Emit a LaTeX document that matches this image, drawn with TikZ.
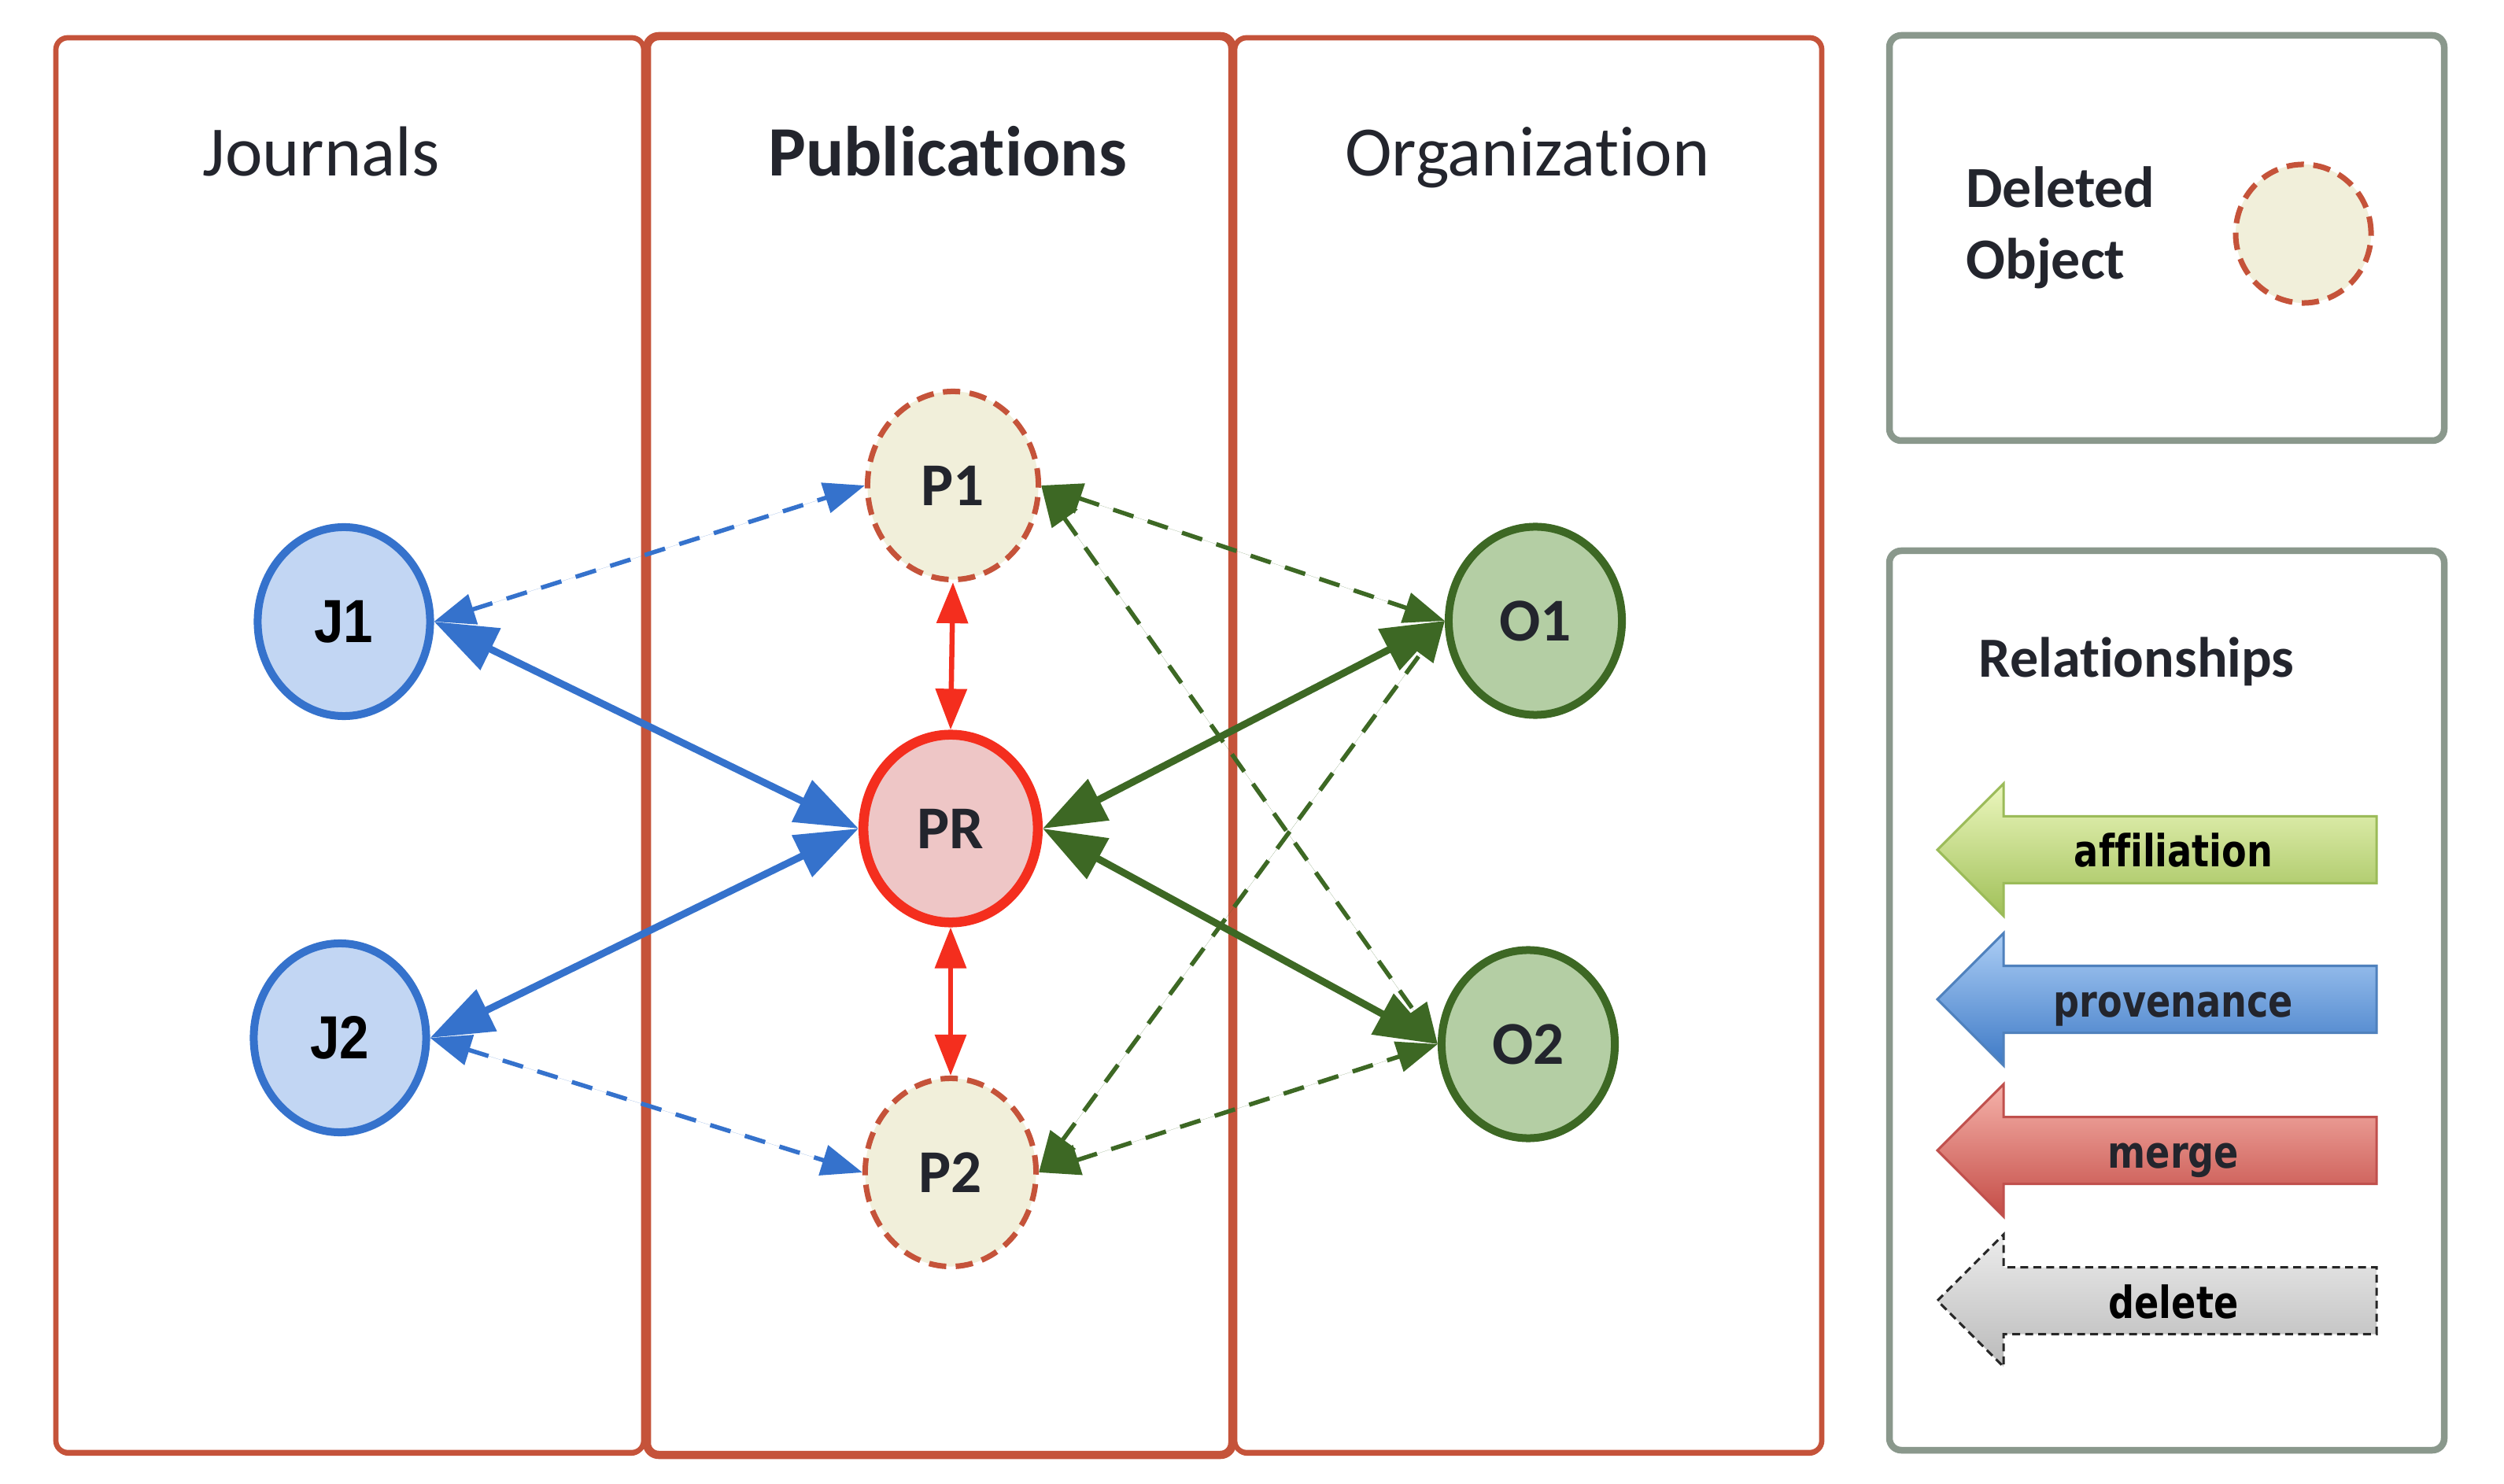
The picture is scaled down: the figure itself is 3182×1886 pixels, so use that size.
\documentclass[tikz,border=0pt]{standalone}
\usepackage{fontspec}
\setmainfont{Carlito}[Ligatures=NoCommon]
\newfontfamily\jfont[FakeStretch=0.87]{Liberation Sans}
\newfontfamily\legfont[FakeStretch=0.82,Ligatures=NoCommon]{DejaVu Sans}
\usetikzlibrary{arrows.meta,shapes.geometric}
\definecolor{lanec}{RGB}{197,83,58}
\definecolor{legc}{RGB}{138,152,140}
\definecolor{txt}{RGB}{35,37,45}
\definecolor{bluec}{RGB}{53,114,204}
\definecolor{jfill}{RGB}{194,214,243}
\definecolor{greenc}{RGB}{61,104,36}
\definecolor{ofill}{RGB}{180,206,164}
\definecolor{redc}{RGB}{244,46,30}
\definecolor{prfill}{RGB}{238,198,198}
\definecolor{pfill}{RGB}{241,239,218}
\definecolor{affT}{RGB}{236,247,190}
\definecolor{affB}{RGB}{160,192,88}
\definecolor{affD}{RGB}{155,187,89}
\definecolor{proT}{RGB}{172,206,245}
\definecolor{proB}{RGB}{62,122,198}
\definecolor{proD}{RGB}{79,129,189}
\definecolor{merT}{RGB}{245,178,170}
\definecolor{merB}{RGB}{196,76,70}
\definecolor{merD}{RGB}{192,80,77}
\definecolor{delT}{RGB}{236,236,236}
\definecolor{delB}{RGB}{186,186,186}
\newcommand\legarrow[2]{%
  \shadedraw[#2] (2462,#1) -- (2546,{#1-84}) -- (2546,{#1-42.5}) -- (3020,{#1-42.5})
    -- (3020,{#1+42.5}) -- (2546,{#1+42.5}) -- (2546,{#1+84}) -- cycle;}
\begin{document}
\begin{tikzpicture}[x=0.01cm,y=-0.01cm,
  lane/.style={draw=lanec, line width=0.067cm, rounded corners=0.15cm, fill=white},
  laneshadow/.style={fill=lanec, rounded corners=0.15cm},
  legbox/.style={draw=legc, line width=0.085cm, rounded corners=0.15cm, fill=white},
  legshadow/.style={fill=legc, rounded corners=0.15cm},
  title/.style={anchor=base, text=txt, font=\fontsize{25.6}{30}\selectfont},
  jnode/.style={ellipse, draw=bluec, fill=jfill, line width=0.1cm, minimum width=2.19cm,
    minimum height=2.4cm, inner sep=0pt, text=black, font=\jfont\bfseries\fontsize{22}{26}\selectfont},
  onode/.style={ellipse, draw=greenc, fill=ofill, line width=0.1cm, minimum width=2.2cm,
    minimum height=2.39cm, inner sep=0pt, text=txt, font=\bfseries\fontsize{22}{26}\selectfont},
  prnode/.style={ellipse, draw=redc, fill=prfill, line width=0.125cm, minimum width=2.215cm,
    minimum height=2.385cm, inner sep=0pt, text=txt, font=\bfseries\fontsize{22}{26}\selectfont},
  pnode/.style={ellipse, draw=lanec, fill=pfill, line width=0.07cm, dash pattern=on 0.22cm off 0.12cm,
    minimum width=2.17cm, minimum height=2.39cm, inner sep=0pt, text=txt, font=\bfseries\fontsize{22}{26}\selectfont},
  bigtips/.style={{Triangle[length=0.8cm,width=0.57cm]}-{Triangle[length=0.8cm,width=0.57cm]}},
  smalltips/.style={{Triangle[length=0.52cm,width=0.39cm]}-{Triangle[length=0.52cm,width=0.39cm]}},
  bluesolid/.style={draw=bluec, fill=bluec, line width=0.09cm, bigtips},
  bluedash/.style={draw=bluec, fill=bluec, line width=0.055cm, smalltips, dash pattern=on 0.27cm off 0.19cm},
  greensolid/.style={draw=greenc, fill=greenc, line width=0.09cm, bigtips},
  greendash/.style={draw=greenc, fill=greenc, line width=0.055cm, smalltips, dash pattern=on 0.27cm off 0.19cm},
  redline/.style={draw=redc, fill=redc, line width=0.065cm, smalltips},
  legtext/.style={anchor=base, font=\legfont\bfseries\fontsize{16}{19}\selectfont},
  legtitle/.style={anchor=base west, text=txt, font=\bfseries\fontsize{21}{25}\selectfont}
]
\useasboundingbox (0,0) rectangle (3182,1886);
% lanes
\fill[laneshadow] (71,52) rectangle (818,1850);
\draw[lane] (71,48) rectangle (818,1846);
\fill[laneshadow] (1569,52) rectangle (2315,1850);
\draw[lane] (1569,48) rectangle (2315,1846);
\fill[laneshadow] (822,50) rectangle (1566,1853);
\draw[lane, line width=0.105cm] (822,46) rectangle (1566,1849);
\node[title] (tj) at (408,224) {Journals};
\node[title, font=\bfseries\fontsize{25.6}{30}\selectfont] (tp) at (1204,224) {Publications};
\node[title] (to) at (1941,224) {Organization};
% legend boxes
\fill[legshadow] (2401,49) rectangle (3106,564);
\draw[legbox] (2401,45) rectangle (3106,560);
\fill[legshadow] (2401,704) rectangle (3106,1847);
\draw[legbox] (2401,700) rectangle (3106,1843);
\node[legtitle] (ld1) at (2486,264) {Deleted};
\node[legtitle] (ld2) at (2486,355) {Object};
\node[pnode, minimum width=1.72cm, minimum height=1.76cm] (lde) at (2927,297) {};
\node[legtitle, font=\bfseries\fontsize{20.5}{25}\selectfont] (lrel) at (2502,861) {Relationships};
% legend arrows
\legarrow{1080}{top color=affT, bottom color=affB, draw=affD, line width=0.03cm}
\node[legtext, text=black] (laff) at (2762,1102) {affiliation};
\legarrow{1270}{top color=proT, bottom color=proB, draw=proD, line width=0.03cm}
\node[legtext, text=txt] (lpro) at (2762,1292) {provenance};
\legarrow{1462}{top color=merT, bottom color=merB, draw=merD, line width=0.03cm}
\node[legtext, text=txt] (lmer) at (2762,1484) {merge};
\legarrow{1653}{top color=delT, bottom color=delB, draw=black!85, line width=0.03cm, dash pattern=on 0.1cm off 0.065cm}
\node[legtext, text=black] (ldel) at (2762,1675) {delete};
% nodes
\node[jnode] (J1) at (437,790) {J1};
\node[jnode] (J2) at (432,1319) {J2};
\node[pnode] (P1) at (1211,617) {P1};
\node[prnode] (PR) at (1208,1053) {PR};
\node[pnode] (P2) at (1208,1490) {P2};
\node[onode] (O1) at (1951,789) {O1};
\node[onode] (O2) at (1942,1327) {O2};
% connectors
\draw[bluedash] (J1.east) -- (P1.west);
\draw[bluedash] (J2.east) -- (P2.west);
\draw[bluesolid] (J1.east) -- (PR.west);
\draw[bluesolid] (J2.east) -- (PR.west);
\draw[redline] (P1.south) -- (PR.north);
\draw[redline] (PR.south) -- (P2.north);
\draw[greendash] (P1.east) -- (O1.west);
\draw[greendash] (P1.east) -- (O2.west);
\draw[greendash] (P2.east) -- (O1.west);
\draw[greendash] (P2.east) -- (O2.west);
\draw[greensolid] (PR.east) -- (O1.west);
\draw[greensolid] (PR.east) -- (O2.west);
\end{tikzpicture}
\end{document}
